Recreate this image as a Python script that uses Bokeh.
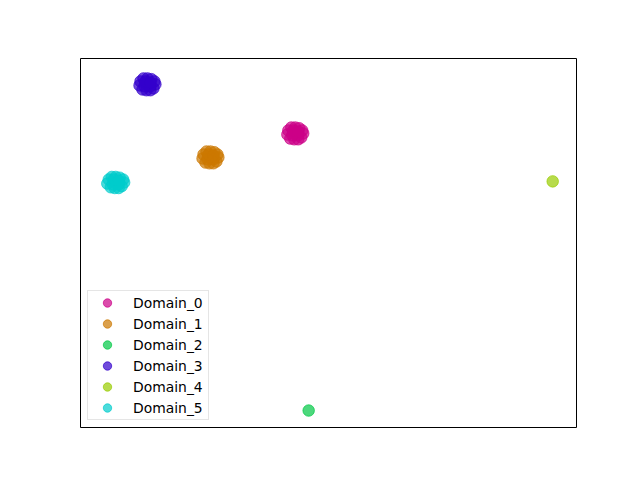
from bokeh.plotting import figure
from bokeh.models import Range1d, Legend, LegendItem
from bokeh.embed import file_html
from bokeh.resources import INLINE

domains = ["Domain_0", "Domain_1", "Domain_2", "Domain_3", "Domain_4", "Domain_5"]
colors = ["#cc0088", "#cc7700", "#00c844", "#3300cc", "#99cc00", "#00cccc"]

# embedded coordinates of the samples per domain
d0_x = [44.9, 44.5, 43.9, 43.1, 42.3, 41.7, 41.9, 42.5, 43.3, 44.1, 44.7, 43.3, 43.9, 42.7, 42.9, 43.9]
d0_y = [79.7, 78.6, 78.1, 78.1, 78.3, 79.4, 80.5, 81.3, 81.3, 81.1, 80.5, 79.7, 79.2, 79.2, 80.5, 80.2]
d1_x = [27.8, 27.4, 26.8, 26.0, 25.2, 24.6, 24.8, 25.4, 26.2, 27.0, 27.6, 26.2, 26.8, 25.6, 25.8, 26.8]
d1_y = [73.2, 72.1, 71.6, 71.6, 71.8, 72.9, 74.0, 74.8, 74.8, 74.6, 74.0, 73.2, 72.7, 72.7, 74.0, 73.7]
d2_x = [46.0]
d2_y = [4.6]
d3_x = [15.1, 14.7, 14.1, 13.3, 12.5, 11.9, 12.1, 12.7, 13.5, 14.3, 14.9, 13.5, 14.1, 12.9, 13.1, 14.1]
d3_y = [93.0, 91.9, 91.4, 91.4, 91.6, 92.7, 93.8, 94.6, 94.6, 94.4, 93.8, 93.0, 92.5, 92.5, 93.8, 93.5]
d4_x = [95.2]
d4_y = [66.7]
d5_x = [8.8, 8.3, 7.7, 6.9, 6.1, 5.4, 5.7, 6.3, 7.1, 7.9, 8.6, 7.1, 7.7, 6.5, 6.7, 7.7]
d5_y = [66.4, 65.4, 64.9, 64.9, 65.1, 66.1, 67.2, 67.9, 67.9, 67.7, 67.2, 66.4, 65.9, 65.9, 67.2, 66.9]

xs = [d0_x, d1_x, d2_x, d3_x, d4_x, d5_x]
ys = [d0_y, d1_y, d2_y, d3_y, d4_y, d5_y]

p = figure(width=624, height=464, output_backend="svg", toolbar_location=None,
           x_range=Range1d(0, 100), y_range=Range1d(0, 100),
           min_border_left=80, min_border_right=48, min_border_top=58, min_border_bottom=37)
p.axis.visible = False
p.grid.visible = False
p.outline_line_color = "black"
p.outline_line_width = 1
p.background_fill_color = "white"
p.border_fill_color = "white"

items = []
for name, c, x, y in zip(domains, colors, xs, ys):
    r = p.scatter(x, y, size=11.5, fill_color=c, line_color=c, fill_alpha=0.7, line_alpha=0.7)
    items.append(LegendItem(label=name, renderers=[r]))

legend = Legend(items=items, location="bottom_left")
legend.margin = 7
legend.padding = 1
legend.spacing = 0
legend.glyph_width = 36
legend.glyph_height = 21
legend.label_height = 21
legend.label_width = 74
legend.label_standoff = 8
legend.label_text_font = "DejaVu Sans"
legend.label_text_font_size = "13.9px"
legend.label_text_color = "black"
legend.border_line_color = "#cccccc"
legend.background_fill_alpha = 0.8
p.add_layout(legend, "center")

open("out.html", "w").write(file_html(p, INLINE))
